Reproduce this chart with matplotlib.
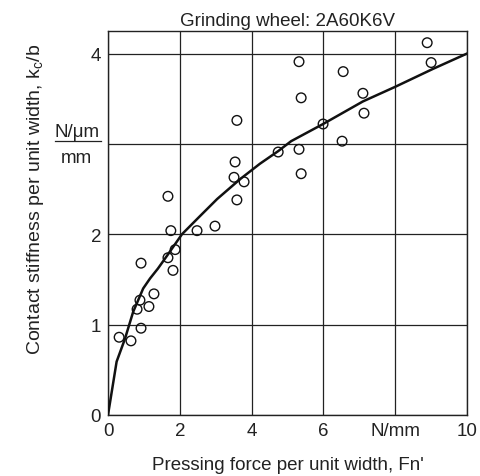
import numpy as np
import matplotlib
matplotlib.use('Agg')
import matplotlib.pyplot as plt
from matplotlib.lines import Line2D

plt.rcParams['font.family'] = ['Liberation Sans', 'DejaVu Sans']

# measured points, Fn' (N/mm) vs kc/b (N/um/mm)
fn = [8.89, 9.00, 5.32, 6.55, 5.38, 7.10, 7.13, 3.59, 5.99, 6.52, 5.32, 4.74,
      3.54, 3.51, 3.79, 5.38, 3.59, 1.67, 2.98, 2.48, 1.75, 1.87, 1.67, 0.92,
      1.81, 1.28, 0.89, 1.14, 0.81, 0.92, 0.31, 0.64]
kc = [4.12, 3.90, 3.91, 3.80, 3.51, 3.56, 3.34, 3.26, 3.22, 3.03, 2.94, 2.91,
      2.80, 2.63, 2.58, 2.67, 2.38, 2.42, 2.09, 2.04, 2.04, 1.83, 1.74, 1.68,
      1.60, 1.34, 1.27, 1.20, 1.17, 0.96, 0.86, 0.82]

# fitted curve
curve_x = [0.0, 0.24, 0.47, 0.70, 0.98, 1.17, 1.39, 1.64, 2.06, 2.56, 3.04,
           3.68, 4.23, 4.74, 5.10, 5.99, 7.10, 7.99, 9.05, 10.0]
curve_y = [0.0, 0.59, 0.84, 1.14, 1.40, 1.51, 1.62, 1.76, 2.00, 2.20, 2.39,
           2.61, 2.78, 2.92, 3.03, 3.22, 3.47, 3.63, 3.83, 4.00]

xticks = [0, 2, 4, 6, 8, 10]
xlabels = ['0', '2', '4', '6', 'N/mm', '10']
yticks = [0, 1, 2, 3, 4]
ylabels = ['0', '1', '2', '', '4']

fs = 13.5
ink = '#222222'

fig = plt.figure(figsize=(4.8, 4.77), dpi=100, facecolor='white')
ax = fig.add_axes([0.225, 0.128, 0.748, 0.805])

ax.plot(curve_x, curve_y, color='#111111', linewidth=1.8, zorder=3)
ax.scatter(fn, kc, s=48, facecolors='none', edgecolors='#111111',
           linewidths=1.0, zorder=4)

ax.set_xlim(0, 10)
ax.set_ylim(0, 4.25)
ax.set_xticks(xticks)
ax.set_xticklabels(xlabels)
ax.set_yticks(yticks)
ax.set_yticklabels(ylabels)
ax.tick_params(labelsize=fs, length=0, pad=5, colors=ink)
ax.grid(True, color=ink, linewidth=0.9)
for s in ax.spines.values():
    s.set_color(ink)
    s.set_linewidth(1.0)

ax.set_title('Grinding wheel: 2A60K6V', fontsize=fs, color=ink, pad=4)
ax.set_xlabel("Pressing force per unit width, Fn'", fontsize=fs,
              color=ink, labelpad=12)
ax.set_ylabel('Contact stiffness per unit width, k$_\\mathregular{c}$/b',
              fontsize=14, color=ink)
ax.yaxis.set_label_coords(-0.172, 0.565)

# unit fraction at y=3
tr = ax.get_yaxis_transform()
ax.text(-0.087, 3.14, 'N/\u03bcm', transform=tr, ha='center', va='center',
        fontsize=fs, color=ink)
ax.text(-0.087, 2.85, 'mm', transform=tr, ha='center', va='center',
        fontsize=fs, color=ink)
ax.add_line(Line2D([-0.148, -0.02], [3.03, 3.03], transform=tr,
                   color=ink, linewidth=0.9, clip_on=False))

fig.savefig('out.png', dpi=100)
